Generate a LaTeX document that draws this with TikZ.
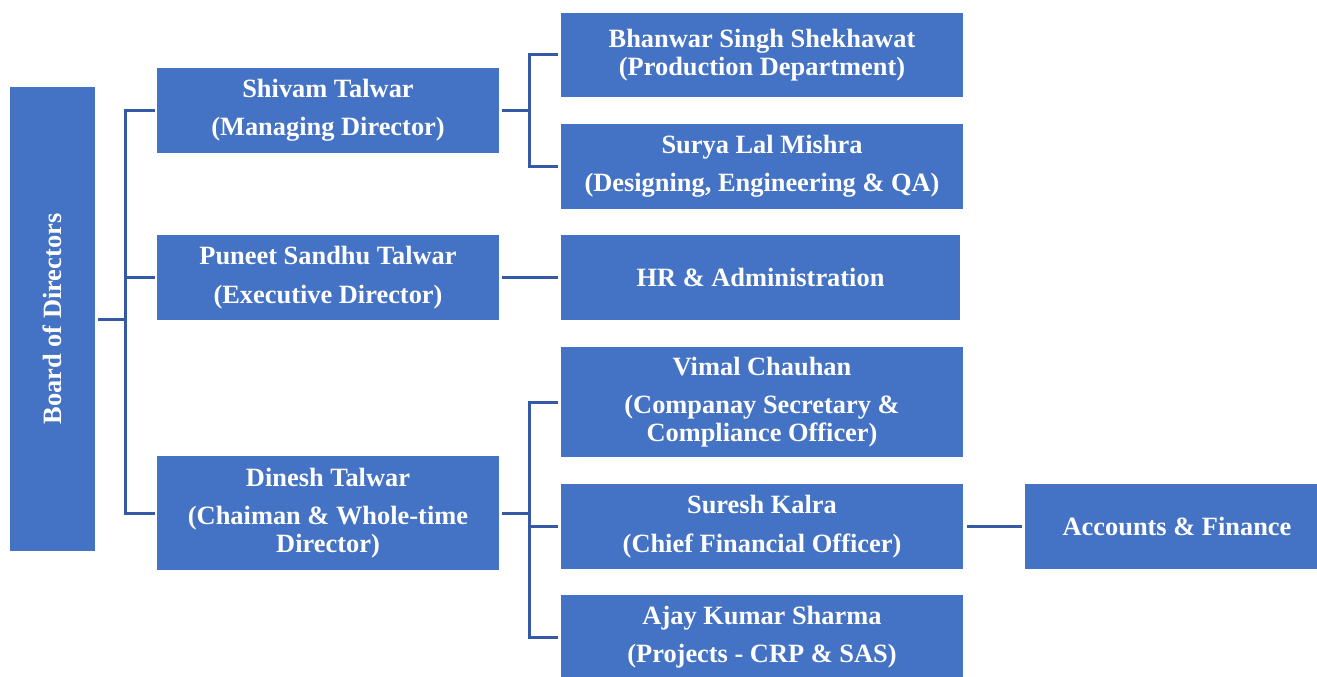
\documentclass[tikz,border=0pt]{standalone}
\usepackage{fontspec}
\setmainfont{Liberation Serif}
\usepackage{xcolor}
\usetikzlibrary{positioning}
\definecolor{orgfill}{RGB}{68,114,196}
\definecolor{orgline}{RGB}{52,90,165}

\begin{document}
\begin{tikzpicture}[
  x=1pt, y=-1pt,
  every node/.style={font=\bfseries\fontsize{26.4}{27.5}\selectfont},
  post/.style={fill=orgfill, text=white, align=center, inner sep=0pt,
    minimum width=402pt, minimum height=85pt},
  head/.style={post, minimum width=342pt},
  link/.style={draw=orgline, line width=3pt}
]
  \useasboundingbox (0,0) rectangle (1317,677);
  \def\colB{328}\def\colC{762}\def\colD{1177}

  % board
  \node[post, rotate=90, minimum width=464pt] (board) at (52.5,319) {Board of Directors};

  % directors
  \node[head] (shivam) at (\colB,110.5) {Shivam Talwar\\[11pt](Managing Director)};
  \node[head] (puneet) at (\colB,277.5) {Puneet Sandhu Talwar\\[11pt](Executive Director)};
  \node[head, minimum height=114pt] (dinesh) at (\colB,513) {Dinesh Talwar\\[11pt](Chaiman \& Whole-time\\Director)};

  % departments
  \node[post, minimum height=84pt] (bhanwar) at (\colC,55) {Bhanwar Singh Shekhawat\\(Production Department)};
  \node[post] (surya) at (\colC,166.5) {Surya Lal Mishra\\[11pt](Designing, Engineering \& QA)};
  \node[post, minimum width=399pt] (hr) at (760.5,277.5) {HR \& Administration};
  \node[post, minimum height=110pt] (vimal) at (\colC,402) {Vimal Chauhan\\[11pt](Companay Secretary \&\\Compliance Officer)};
  \node[post] (suresh) at (\colC,526.5) {Suresh Kalra\\[11pt](Chief Financial Officer)};
  \node[post, minimum height=84pt] (ajay) at (\colC,637) {Ajay Kumar Sharma\\[11pt](Projects - CRP \& SAS)};
  \node[post, minimum width=304pt] (accounts) at (\colD,526.5) {Accounts \& Finance};

  % board to directors
  \draw[link] ([xshift=3pt]board.south) -- ++(28,0);
  \draw[link] ([xshift=-2pt]shivam.west) -| ([xshift=-31pt]dinesh.west) -- ([xshift=-2pt]dinesh.west);
  \draw[link] ([xshift=-2pt]puneet.west) -- ++(-29,0);

  % directors to departments
  \draw[link] ([xshift=3pt]shivam.east) -- ++(28,0);
  \draw[link] ([xshift=-3pt]bhanwar.west) -| ([xshift=-31pt]surya.west) -- ([xshift=-3pt]surya.west);
  \draw[link] ([xshift=3pt]puneet.east) -- ([xshift=-3pt]hr.west);
  \draw[link] ([xshift=3pt]dinesh.east) -- ++(28,0);
  \draw[link] ([xshift=-3pt]vimal.west) -| ([xshift=-31pt]ajay.west) -- ([xshift=-3pt]ajay.west);
  \draw[link] ([xshift=-3pt]suresh.west) -- ++(-28,0);
  \draw[link] ([xshift=4pt]suresh.east) -- ([xshift=-3pt]accounts.west);
\end{tikzpicture}
\end{document}
